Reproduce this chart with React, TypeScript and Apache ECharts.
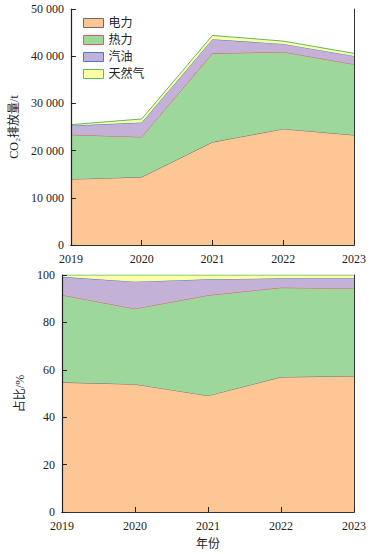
import React, { useEffect, useRef } from "react";
import * as echarts from "echarts";

const years = ["2019", "2020", "2021", "2022", "2023"];
const seriesNames = ["电力", "热力", "汽油", "天然气"];
const electricity = [13950, 14400, 21800, 24600, 23300];
const heat = [9400, 8500, 18800, 16300, 15000];
const gasoline = [1950, 3050, 3000, 1700, 1750];
const naturalGas = [200, 750, 800, 600, 550];
const yTicksTop = [0, 10000, 20000, 30000, 40000, 50000];

const FONT = "'Liberation Serif', 'Noto Sans CJK SC', serif";
const fills = ["#FDC695", "#9DD79C", "#C3B1D8", "#FFFFA3"];
const lines = ["#6b6b6b", "#E05A5A", "#4A78D0", "#5DBB63"];

export default function App() {
  const ref = useRef<HTMLDivElement>(null);
  useEffect(() => {
    if (!ref.current) return;
    const chart = echarts.init(ref.current, undefined, { renderer: "svg" });
    const raw = [electricity, heat, gasoline, naturalGas];
    const totals = years.map((_, i) => raw.reduce((s, a) => s + a[i], 0));
    const pct = raw.map((a) => a.map((v, i) => (v / totals[i]) * 100));

    const axisLabel = { fontFamily: FONT, fontSize: 12, lineHeight: 12, color: "#222" };
    const frameLine = { show: true, lineStyle: { color: "#333", width: 1 } };

    const xBottom = (gridIndex: number) => ({
      type: "category",
      gridIndex,
      data: years,
      boundaryGap: false,
      position: "bottom",
      z: 10,
      axisLine: { show: true, lineStyle: { color: "#222", width: 1.2 } },
      axisTick: { show: true, inside: true, length: 5, lineStyle: { color: "#222" } },
      axisLabel: { ...axisLabel, margin: 8 },
      splitLine: { show: false },
    });
    const xTop = (gridIndex: number) => ({
      type: "category",
      gridIndex,
      data: years,
      boundaryGap: false,
      position: "top",
      z: 10,
      axisLine: frameLine,
      axisTick: { show: false },
      axisLabel: { show: false },
      splitLine: { show: false },
    });
    const yRight = (gridIndex: number, max: number) => ({
      type: "value",
      gridIndex,
      position: "right",
      min: 0,
      max,
      z: 10,
      axisLine: frameLine,
      axisTick: { show: false },
      axisLabel: { show: false },
      splitLine: { show: false },
    });

    const makeSeries = (data: number[][], xi: number, yi: number, stack: string) =>
      seriesNames.map((name, k) => ({
        name,
        type: "line",
        xAxisIndex: xi,
        yAxisIndex: yi,
        stack,
        data: data[k],
        showSymbol: false,
        symbol: "none",
        lineStyle: { color: lines[k], width: 1 },
        itemStyle: { color: fills[k] },
        areaStyle: { color: fills[k], opacity: 1 },
        z: 2 + k,
      }));

    chart.setOption({
      animation: false,
      backgroundColor: "#fff",
      grid: [
        { left: 62, right: 16, top: 9, height: 236 },
        { left: 62, right: 16, top: 275, height: 237 },
      ],
      legend: {
        orient: "vertical",
        left: 78,
        top: 12,
        itemWidth: 20,
        itemHeight: 9,
        itemGap: 5,
        icon: "rect",
        textStyle: { fontFamily: FONT, fontSize: 12, color: "#222" },
        data: seriesNames.map((n, k) => ({
          name: n,
          itemStyle: { color: fills[k], borderColor: lines[k], borderWidth: 1 },
        })),
      },
      xAxis: [xBottom(0), xTop(0), { ...xBottom(1), name: "年份", nameLocation: "middle", nameGap: 26, nameTextStyle: { fontFamily: FONT, fontSize: 12, color: "#222" } }, xTop(1)],
      yAxis: [
        {
          type: "value",
          gridIndex: 0,
          min: yTicksTop[0],
          max: yTicksTop[yTicksTop.length - 1],
          interval: yTicksTop[1] - yTicksTop[0],
          z: 10,
          name: "CO₂排放量/t",
          nameLocation: "middle",
          nameGap: 50,
          nameRotate: 90,
          nameTextStyle: { fontFamily: FONT, fontSize: 12, color: "#222" },
          axisLine: { show: true, lineStyle: { color: "#222", width: 1.2 } },
          axisTick: { show: true, inside: true, length: 5, lineStyle: { color: "#222" } },
          axisLabel: {
            ...axisLabel,
            margin: 7,
            formatter: (v: number) => (v >= 1000 ? `${Math.floor(v / 1000)} ${String(v % 1000).padStart(3, "0")}` : String(v)),
          },
          splitLine: { show: false },
        },
        yRight(0, 50000),
        {
          type: "value",
          gridIndex: 1,
          min: 0,
          max: 100,
          interval: 20,
          z: 10,
          name: "占比/%",
          nameLocation: "middle",
          nameGap: 29,
          nameRotate: 90,
          nameTextStyle: { fontFamily: FONT, fontSize: 12, color: "#222" },
          axisLine: { show: true, lineStyle: { color: "#222", width: 1.2 } },
          axisTick: { show: true, inside: true, length: 5, lineStyle: { color: "#222" } },
          axisLabel: { ...axisLabel, margin: 7 },
          splitLine: { show: false },
        },
        yRight(1, 100),
      ],
      series: [...makeSeries(raw, 0, 0, "abs"), ...makeSeries(pct, 2, 2, "pct")],
    });
    return () => chart.dispose();
  }, []);
  return (
    <div
      ref={ref}
      style={{ position: "fixed", left: 0, top: 0, width: 370, height: 554 }}
    />
  );
}
